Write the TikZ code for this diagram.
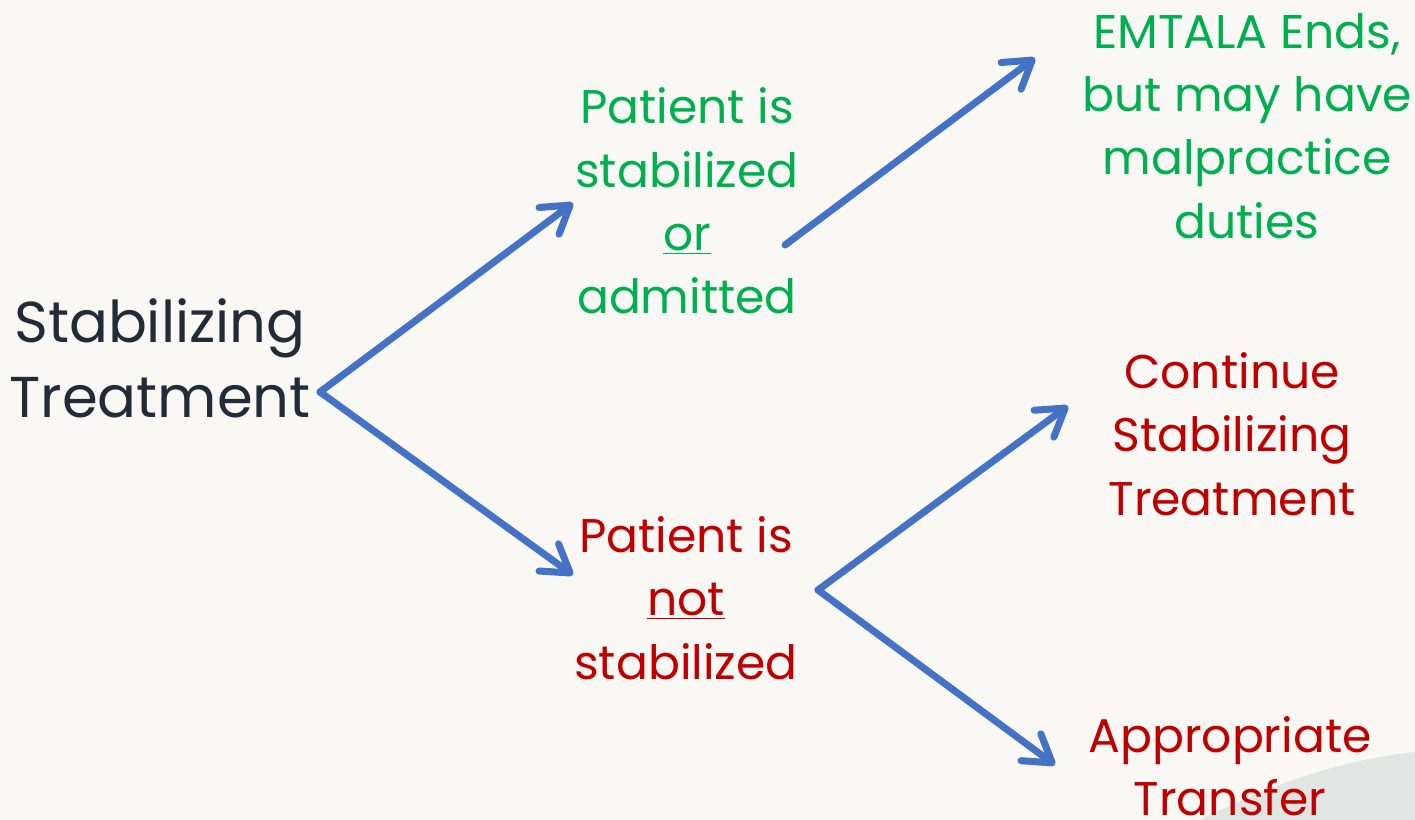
\documentclass[tikz,border=0pt]{standalone}
\usepackage{fontspec}
\setmainfont{Poppins}
\usetikzlibrary{arrows.meta,positioning}
\definecolor{okgreen}{HTML}{00B050}
\definecolor{badred}{HTML}{C00000}
\definecolor{inkdark}{HTML}{232B36}
\definecolor{flowblue}{HTML}{4472C4}
\definecolor{paper}{HTML}{F9F8F4}
\definecolor{swoosh}{HTML}{E1E6E4}

\begin{document}
\begin{tikzpicture}[x=0.02cm,y=-0.02cm,
  flow/.style={line width=4pt, flowblue, line cap=round, line join=round,
    -{Straight Barb[length=15pt,width=19pt,round]}},
  lead/.style={inkdark, align=center, font=\fontsize{32.8}{42.5}\selectfont},
  good/.style={okgreen, align=center, font=\fontsize{26.9}{36}\selectfont},
  bad/.style={badred, align=center, font=\fontsize{26.9}{36}\selectfont}]
\fill[paper] (0,0) rectangle (1415,820);
\useasboundingbox (0,0) rectangle (1415,820);
\fill[swoosh] (1200,820) .. controls (1270,785) and (1340,760) .. (1415,752) -- (1415,820) -- cycle;

\node[lead] (stab) at (160,358) {Stabilizing\\Treatment};
\node[good] (yes) at (687,201) {Patient is\\stabilized\\\underline{or}\\admitted};
\node[bad] (no) at (686,598) {Patient is\\\underline{not}\\stabilized};
\node[good] (ends) at (1247,126) {EMTALA Ends,\\but may have\\malpractice\\duties};
\node[bad] (cont) at (1232,434) {Continue\\Stabilizing\\Treatment};
\node[bad] (xfer) at (1230,766) {Appropriate\\Transfer};

\coordinate (fork) at (320,392);
\coordinate (yesin) at (573,203);
\coordinate (noin) at (573,575);
\coordinate (yesout) at (785,245);
\coordinate (endsin) at (1035,58);
\coordinate (noout) at (818,590);
\coordinate (contin) at (1068,406);
\coordinate (xferin) at (1055,765);

\draw[flow] (fork) -- (yesin);
\draw[flow] (fork) -- (noin);
\draw[flow] (yesout) -- (endsin);
\draw[flow] (noout) -- (contin);
\draw[flow] (noout) -- (xferin);
\end{tikzpicture}
\end{document}
